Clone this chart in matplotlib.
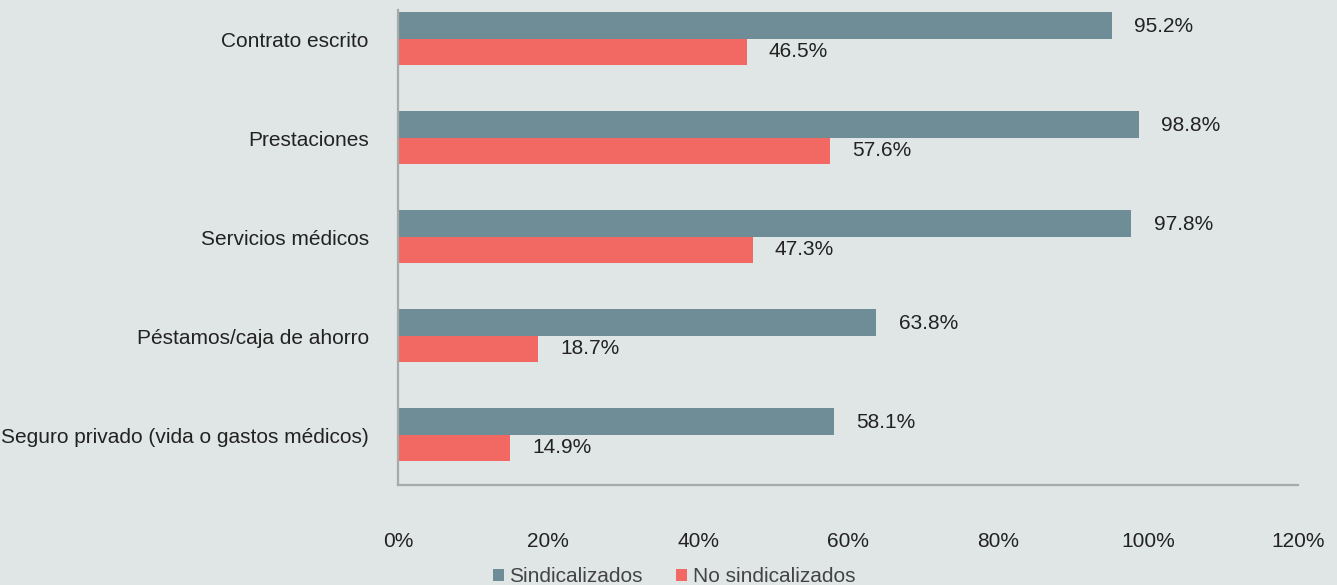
import matplotlib
matplotlib.use("Agg")
import matplotlib.pyplot as plt
from matplotlib import font_manager

categories = ["Contrato escrito", "Prestaciones", "Servicios médicos",
              "Péstamos/caja de ahorro", "Seguro privado (vida o gastos médicos)"]
sindicalizados = [95.2, 98.8, 97.8, 63.8, 58.1]
no_sindicalizados = [46.5, 57.6, 47.3, 18.7, 14.9]
series_names = ["Sindicalizados", "No sindicalizados"]
xticks = [0, 20, 40, 60, 80, 100, 120]

names = {f.name for f in font_manager.fontManager.ttflist}
fam = ["Liberation Sans Narrow", "DejaVu Sans"] if "Liberation Sans Narrow" in names else ["Liberation Sans", "DejaVu Sans"]
plt.rcParams['font.family'] = fam

BG = "#e0e6e5"
SLATE = "#6e8d97"
SALMON = "#f26862"
TXT = "#222222"
FS = 15

fig = plt.figure(figsize=(13.37, 5.85), dpi=100, facecolor=BG)
ax = fig.add_axes([398/1337, 100/585, 900/1337, 475/585], facecolor=BG)

h = 0.27
y = list(range(len(categories)))
y1 = [v - 0.14 for v in y]
y2 = [v + 0.13 for v in y]
b1 = ax.barh(y1, sindicalizados, height=h, color=SLATE, label=series_names[0])
b2 = ax.barh(y2, no_sindicalizados, height=h, color=SALMON, label=series_names[1])

for yy, v in zip(y1, sindicalizados):
    ax.annotate(f"{v:.1f}%", (v, yy), xytext=(16, -1), textcoords="offset points",
                va="center", ha="left", fontsize=FS, color=TXT)
for yy, v in zip(y2, no_sindicalizados):
    ax.annotate(f"{v:.1f}%", (v, yy), xytext=(16, 0), textcoords="offset points",
                va="center", ha="left", fontsize=FS, color=TXT)

ax.set_xlim(0, 120)
ax.set_ylim(4.505, -0.293)
ax.set_yticks(y)
ax.set_yticklabels(categories, fontsize=FS, color=TXT)
ax.set_xticks(xticks)
ax.set_xticklabels([f"{t}%" for t in xticks], fontsize=FS, color=TXT)
ax.tick_params(axis="both", length=0)
ax.tick_params(axis="y", pad=21)
ax.tick_params(axis="x", pad=34)
for s in ["top", "right"]:
    ax.spines[s].set_visible(False)
for s in ["left", "bottom"]:
    ax.spines[s].set_color("#a8aaa9")
    ax.spines[s].set_linewidth(1.6)

leg = fig.legend(handles=[b1, b2], labels=series_names, loc="center",
                 bbox_to_anchor=(0.504, 0.014), ncol=2, frameon=False,
                 fontsize=FS, handlelength=0.55, handleheight=0.55,
                 handletextpad=0.25, columnspacing=1.6)
for t in leg.get_texts():
    t.set_color("#444444")

fig.savefig("out.png", dpi=100, facecolor=BG)
